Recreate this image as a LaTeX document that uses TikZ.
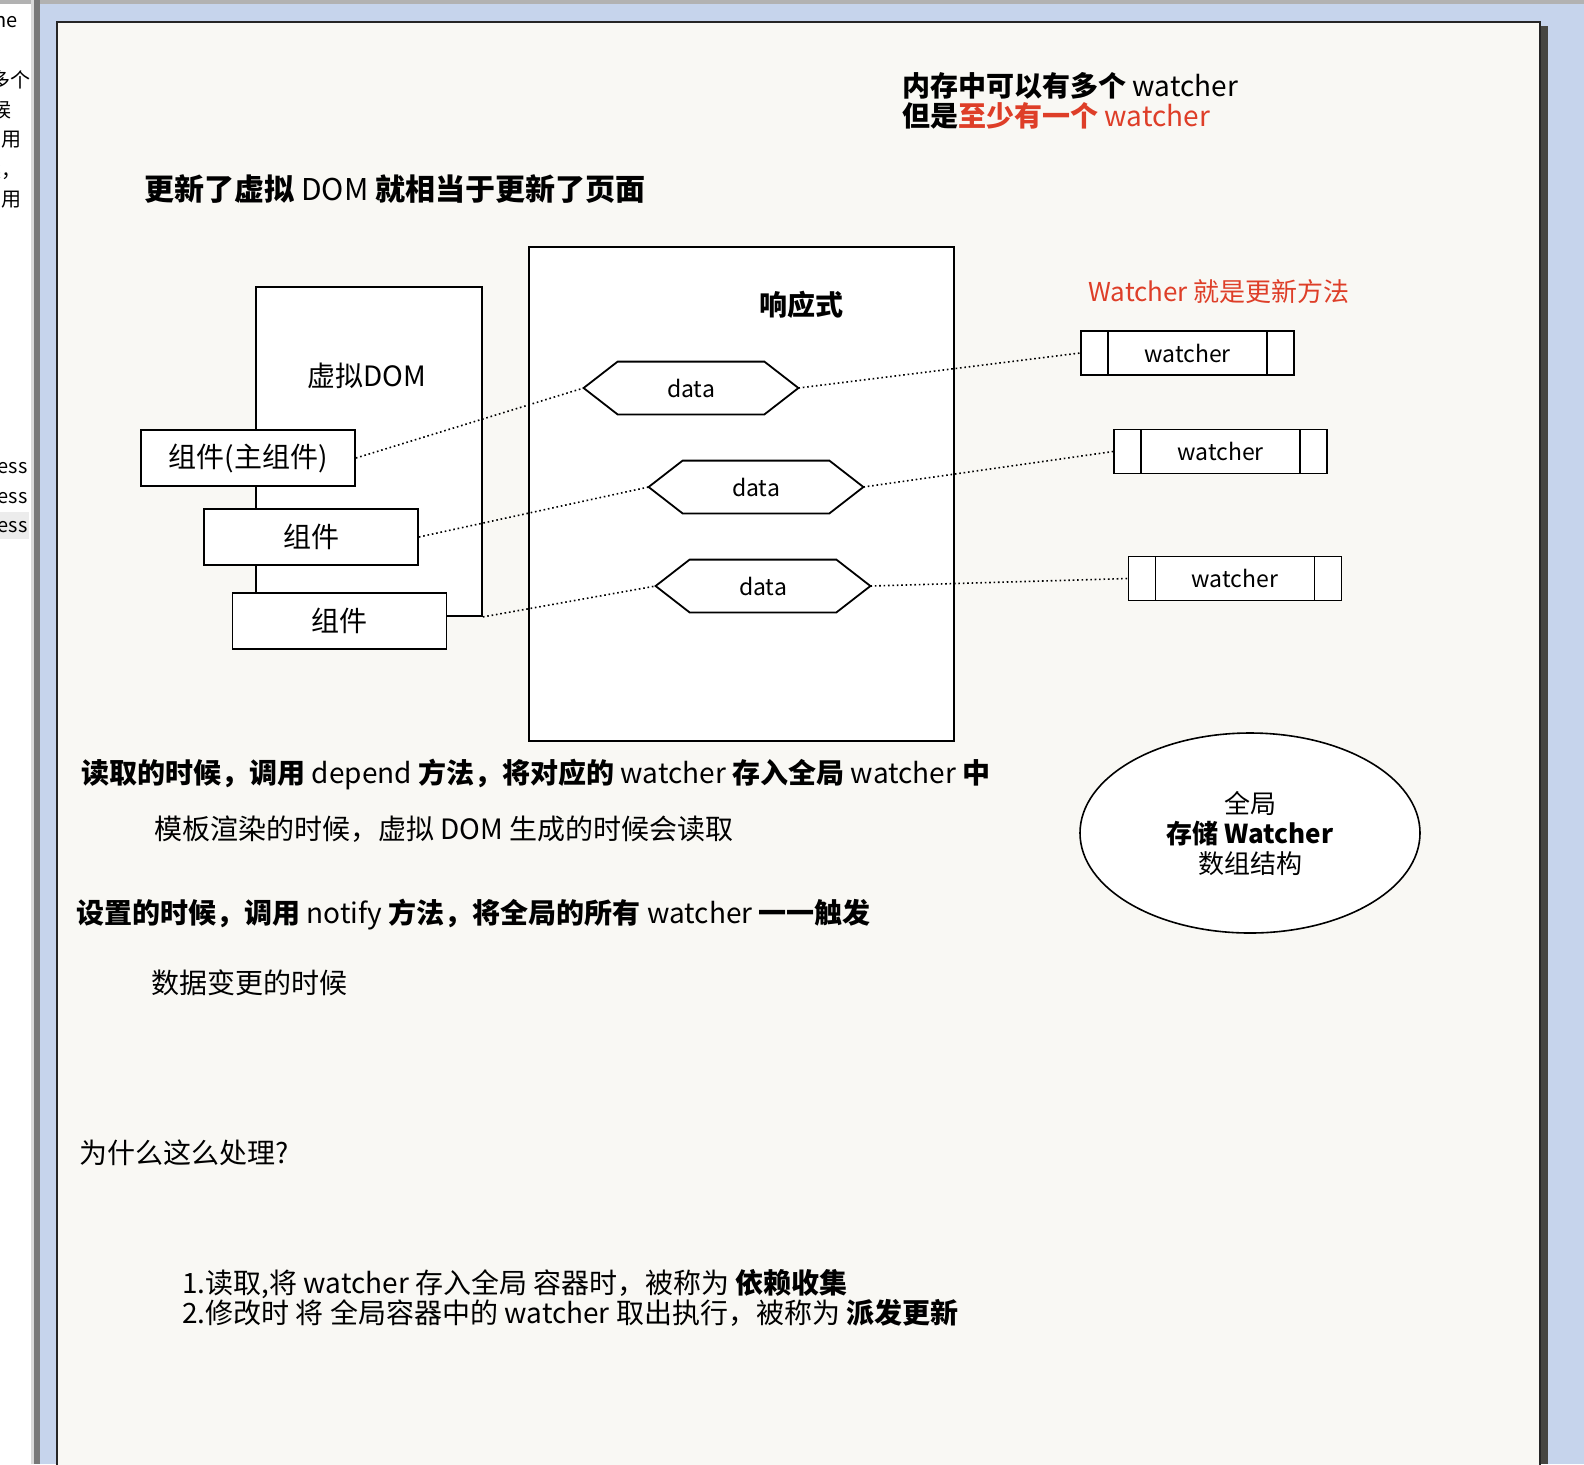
\documentclass[tikz,border=0pt]{standalone}
\usepackage{fontspec}
\setmainfont{Noto Sans CJK SC}
\usetikzlibrary{shapes.geometric}

\definecolor{pagebg}{RGB}{249,248,244}
\definecolor{deskblue}{RGB}{198,212,236}
\definecolor{notered}{RGB}{222,62,40}
\definecolor{edgegray}{RGB}{120,120,120}
\definecolor{shadowgray}{RGB}{70,70,66}

\newcommand{\lat}[1]{{\mdseries #1}}

\tikzset{
  box/.style={draw, line width=0.9pt, fill=white, inner sep=0pt},
  compbox/.style={box, minimum width=107pt, minimum height=28pt, font=\fontsize{14}{15}\selectfont},
  wbox/.style={box, minimum width=106.5pt, minimum height=22pt, font=\fontsize{11.5}{12}\selectfont,
    path picture={
      \draw[line width=0.9pt] ([xshift=13.5pt]path picture bounding box.north west) -- ([xshift=13.5pt]path picture bounding box.south west);
      \draw[line width=0.9pt] ([xshift=-13.5pt]path picture bounding box.north east) -- ([xshift=-13.5pt]path picture bounding box.south east);
    }},
  hexnode/.style={minimum width=107pt, minimum height=26pt, inner sep=0pt, font=\fontsize{11.5}{12}\selectfont},
  link/.style={line width=0.8pt, dash pattern=on 0.8pt off 1.4pt},
  txt/.style={anchor=west, inner sep=0pt, align=left, font=\fontsize{14}{15}\selectfont},
  sidetxt/.style={anchor=east, inner sep=0pt, font=\fontsize{10}{11}\selectfont}
}

\begin{document}
\begin{tikzpicture}[x=0.5pt, y=-0.5pt]
\useasboundingbox (0,0) rectangle (1584,1464);

% window around the page
\fill[deskblue] (0,0) rectangle (1584,1464);
\fill[white] (0,0) rectangle (31,1464);
\fill[gray!15] (0,512) rectangle (29,539);
\fill[gray!60] (0,0) rectangle (1584,4);
\fill[gray!30] (31,0) rectangle (34,1464);
\fill[edgegray] (34,0) rectangle (40,1464);
\fill[shadowgray] (1540,26) rectangle (1548,1464);
\fill[pagebg, draw=black!85, line width=1pt] (57,22) rectangle (1540,1470);

% clipped text of the side panel
\begin{scope}
\clip (0,0) rectangle (30,1464);
\node[sidetxt] (s1) at (18,22) {ne};
\node[sidetxt] (s2) at (31,80) {多个};
\node[sidetxt] (s3) at (12,110) {候};
\node[sidetxt] (s4) at (22,140) {用};
\node[sidetxt] (s5) at (22,170) {候，};
\node[sidetxt] (s6) at (22,200) {用};
\node[sidetxt] (s7) at (28,468) {ess};
\node[sidetxt] (s8) at (28,498) {ess};
\node[sidetxt] (s9) at (28,527) {ess};
\end{scope}

% notes at the top
\node[txt, font=\fontsize{14}{15}\selectfont\bfseries] (memnote) at (902,101)
  {内存中可以有多个 \lat{watcher}\\但是{\color{notered}至少有一个 \lat{watcher}}};
\node[txt, font=\fontsize{15}{16}\selectfont\bfseries] (headline) at (144,189) {更新了虚拟 \lat{DOM} 就相当于更新了页面};

% virtual dom with its components
\node[box, minimum width=113pt, minimum height=164.5pt] (vdom) at (369,451.5) {};
\node[font=\fontsize{14}{15}\selectfont] (vdomlabel) at (367,376) {虚拟DOM};
\node[compbox] (c1) at (248,458) {组件(主组件)};
\node[compbox] (c2) at (311,537) {组件};
\node[compbox] (c3) at (339.5,621) {组件};

% reactive part
\node[box, minimum width=212.5pt, minimum height=247pt] (react) at (741.5,494) {};
\node[font=\fontsize{14}{15}\selectfont\bfseries] (reactlabel) at (801,305) {响应式};
\node[hexnode] (d1) at (691,388) {data};
\node[hexnode] (d2) at (756,487) {data};
\node[hexnode] (d3) at (763,586) {data};
\foreach \d in {d1,d2,d3}
  \draw[line width=0.9pt] (\d.west) -- ([xshift=17pt]\d.north west) -- ([xshift=-17pt]\d.north east)
    -- (\d.east) -- ([xshift=-17pt]\d.south east) -- ([xshift=17pt]\d.south west) -- cycle;

% watchers
\node[txt, font=\fontsize{13}{14}\selectfont, text=notered] (wnote) at (1088,292) {Watcher 就是更新方法};
\node[wbox] (w1) at (1187.5,353) {watcher};
\node[wbox] (w2) at (1220.5,451.5) {watcher};
\node[wbox] (w3) at (1235,578.5) {watcher};

% dotted links
\draw[link] (c1.east) -- (d1.west);
\draw[link] (d1.east) -- (w1.west);
\draw[link] (c2.east) -- (d2.west);
\draw[link] (d2.east) -- (w2.west);
\draw[link] (vdom.south east) -- (d3.west);
\draw[link] (d3.east) -- (w3.west);

% global store
\node[ellipse, draw, line width=0.8pt, fill=white, minimum width=170pt, minimum height=100pt,
  align=center, font=\fontsize{13}{15}\selectfont] (store) at (1250,833)
  {全局\\{\bfseries 存储 Watcher}\\数组结构};

% explanations
\node[txt, font=\fontsize{14}{15}\selectfont\bfseries] (readnote) at (81,774)
  {读取的时候，调用 \lat{depend} 方法，将对应的 \lat{watcher} 存入全局 \lat{watcher} 中};
\node[txt] (readwhen) at (154,829) {模板渲染的时候，虚拟 DOM 生成的时候会读取};
\node[txt, font=\fontsize{14}{15}\selectfont\bfseries] (setnote) at (76,915)
  {设置的时候，调用 \lat{notify} 方法，将全局的所有 \lat{watcher} 一一触发};
\node[txt] (setwhen) at (151,983) {数据变更的时候};
\node[txt] (why) at (79,1153) {为什么这么处理?};
\node[txt] (answer) at (182,1298)
  {1.读取,将 watcher 存入全局 容器时，被称为 {\bfseries 依赖收集}\\2.修改时 将 全局容器中的 watcher 取出执行，被称为 {\bfseries 派发更新}};

\end{tikzpicture}
\end{document}
